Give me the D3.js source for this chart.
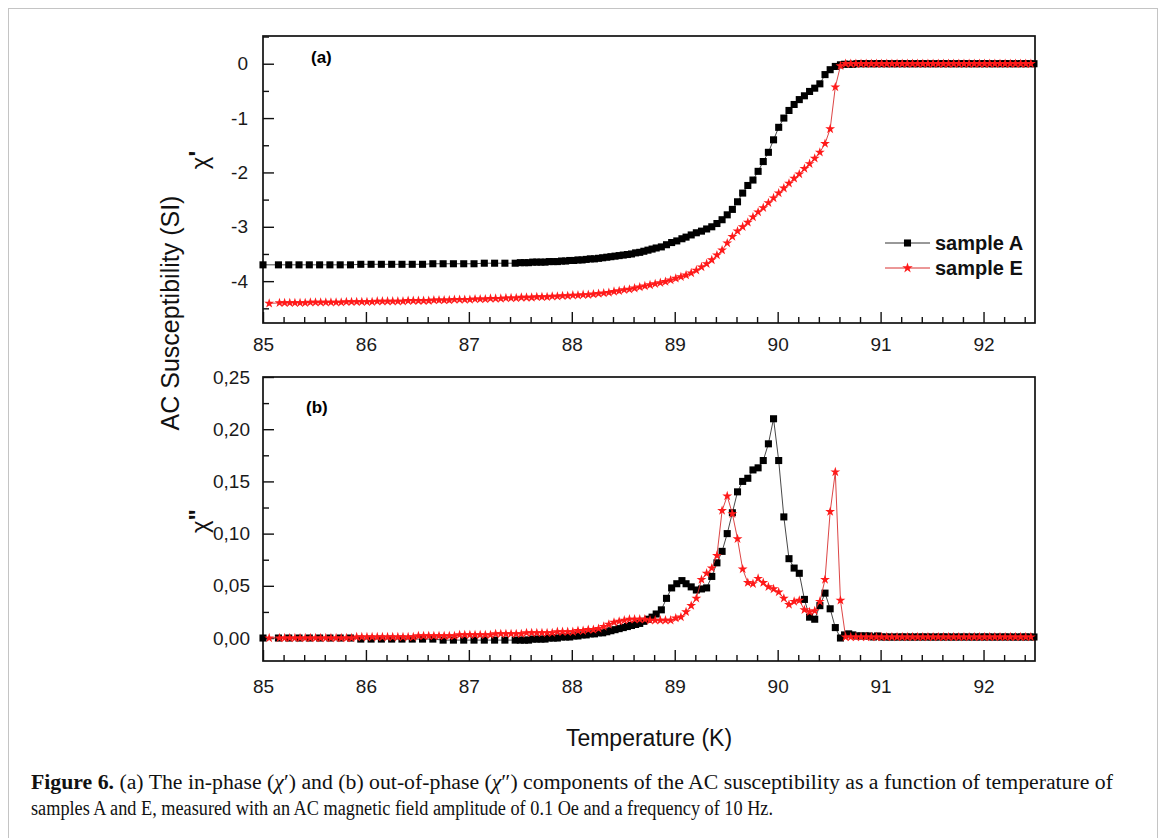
<!DOCTYPE html>
<html>
<head>
<meta charset="utf-8">
<script src="https://cdn.jsdelivr.net/npm/d3@7"></script>
<style>
  body { margin: 0; background: #fff; }
  text { font-family: "Liberation Sans", Arial, sans-serif; }
</style>
</head>
<body>
<div id="okvir"></div>
<script>
// ---- data ----
const seriesNames = ["sample A", "sample E"];
const xTicks = [85, 86, 87, 88, 89, 90, 91, 92];
const topTicks = [0, -1, -2, -3, -4];
const topMinor = [0.5, -0.5, -1.5, -2.5, -3.5, -4.5];
const botTicks = [0, 0.05, 0.10, 0.15, 0.20, 0.25];
const botMinor = [0.025, 0.075, 0.125, 0.175, 0.225];

// sample A: temperature (K), chi' and chi''
const tempA = [85.00,
  85.15,85.25,85.35,85.45,85.55,85.65,85.75,85.85,85.95,86.05,86.15,86.25,86.35,86.45,86.55,86.65,86.75,86.85,86.95,87.05,87.15,87.25,87.35,87.45,
  87.50,87.54,87.58,87.62,87.66,87.70,87.74,87.78,87.82,87.86,87.90,87.94,87.98,88.02,88.06,88.10,88.14,88.18,88.22,88.26,88.30,88.34,88.38,88.42,88.46,88.50,88.54,88.58,88.62,88.66,88.70,88.74,88.78,88.82,
  88.87,88.92,88.97,89.02,89.07,89.11,89.16,89.21,89.26,89.31,89.36,89.41,89.46,89.51,89.56,89.61,89.66,89.71,89.76,89.81,89.86,89.91,89.96,90.01,90.06,90.11,90.16,90.21,90.26,90.31,90.36,90.41,90.46,90.51,90.56,90.61,
  90.65,90.69,90.73,90.77,90.81,90.85,90.89,90.93,90.97,91.01,91.05,91.09,91.13,91.17,91.21,91.25,91.29,91.33,91.37,91.41,91.45,91.49,91.53,91.57,91.61,91.65,91.69,91.73,91.77,91.81,91.85,91.89,91.93,91.97,92.01,92.05,92.09,92.13,92.17,92.21,92.25,92.29,92.33,92.37,92.41,92.45,92.49];
const chi1A = [-3.70,
  -3.70,-3.70,-3.70,-3.70,-3.70,-3.70,-3.70,-3.70,-3.69,-3.69,-3.69,-3.69,-3.69,-3.69,-3.69,-3.68,-3.68,-3.68,-3.68,-3.68,-3.67,-3.67,-3.67,-3.67,
  -3.66,-3.66,-3.66,-3.65,-3.65,-3.65,-3.65,-3.64,-3.64,-3.64,-3.63,-3.63,-3.62,-3.62,-3.61,-3.61,-3.60,-3.59,-3.59,-3.58,-3.57,-3.56,-3.55,-3.54,-3.53,-3.52,-3.51,-3.50,-3.48,-3.47,-3.45,-3.43,-3.41,-3.39,
  -3.37,-3.33,-3.29,-3.26,-3.22,-3.19,-3.15,-3.11,-3.08,-3.04,-3.00,-2.94,-2.87,-2.78,-2.68,-2.54,-2.38,-2.24,-2.14,-1.98,-1.80,-1.63,-1.40,-1.17,-1.00,-0.86,-0.75,-0.66,-0.59,-0.51,-0.45,-0.37,-0.20,-0.11,-0.05,-0.02,
  -0.01,-0.01,-0.01,0.00,0.00,0.00,0.00,0.00,0.00,0.00,0.00,0.00,0.00,0.00,0.00,0.00,0.00,0.00,0.00,0.00,0.00,0.00,0.00,0.00,0.00,0.00,0.00,0.00,0.00,0.00,0.00,0.00,0.00,0.00,0.00,0.00,0.00,0.00,0.00,0.00,0.00,0.00,0.00,0.00,0.00,0.00,0.00];
const chi2A = [0.000,
  0.000,0.000,0.000,0.000,0.000,0.000,0.000,0.000,-0.001,-0.001,-0.001,-0.001,-0.001,-0.001,-0.001,-0.001,-0.002,-0.002,-0.002,-0.002,-0.002,-0.002,-0.002,-0.002,
  -0.002,-0.002,-0.002,-0.001,-0.001,-0.001,-0.001,0.000,0.000,0.000,0.001,0.001,0.001,0.002,0.002,0.003,0.003,0.004,0.004,0.005,0.005,0.006,0.007,0.008,0.009,0.010,0.011,0.012,0.013,0.014,0.016,0.018,0.020,0.023,
  0.027,0.038,0.048,0.052,0.055,0.052,0.049,0.046,0.047,0.048,0.059,0.072,0.083,0.100,0.120,0.140,0.150,0.153,0.161,0.163,0.170,0.186,0.210,0.170,0.116,0.076,0.067,0.062,0.037,0.020,0.018,0.031,0.043,0.028,0.010,0.000,
  0.003,0.004,0.003,0.002,0.002,0.002,0.002,0.001,0.002,0.001,0.001,0.001,0.001,0.001,0.001,0.001,0.001,0.001,0.001,0.001,0.001,0.001,0.001,0.001,0.001,0.001,0.001,0.001,0.001,0.001,0.001,0.001,0.001,0.001,0.001,0.001,0.001,0.001,0.001,0.001,0.001,0.001,0.001,0.001,0.001,0.001,0.001];

// sample E: temperature (K), chi' and chi''
const tempE = [85.06,
  85.16,85.21,85.26,85.31,85.36,85.41,85.46,85.51,85.56,85.61,
  85.66,85.71,85.76,85.81,85.86,85.91,85.96,86.01,86.06,86.11,
  86.16,86.21,86.26,86.31,86.36,86.41,86.46,86.51,86.56,86.61,
  86.66,86.71,86.76,86.81,86.86,86.91,86.96,87.01,87.06,87.11,
  87.16,87.21,87.26,87.31,87.36,87.41,87.46,87.51,87.56,87.61,
  87.66,87.71,87.76,87.81,87.86,87.91,87.96,88.01,88.06,88.11,
  88.16,88.21,88.26,88.31,88.36,88.41,88.46,88.51,88.56,88.61,
  88.66,88.71,88.76,88.81,88.86,88.91,88.96,89.01,89.06,89.11,
  89.16,89.21,89.26,89.31,89.36,89.41,89.46,89.51,89.56,89.61,
  89.66,89.71,89.76,89.81,89.86,89.91,89.96,90.01,90.06,90.11,
  90.16,90.21,90.26,90.31,90.36,90.41,90.46,90.51,90.56,90.61,
  90.66,90.71,90.76,90.81,90.86,90.91,90.96,91.01,91.06,91.11,
  91.16,91.21,91.26,91.31,91.36,91.41,91.46,91.51,91.56,91.61,
  91.66,91.71,91.76,91.81,91.86,91.91,91.96,92.01,92.06,92.11,
  92.16,92.21,92.26,92.31,92.36,92.41,92.46];
const chi1E = [-4.41,
  -4.40,-4.40,-4.40,-4.40,-4.40,-4.40,-4.39,-4.39,-4.39,-4.39,
  -4.39,-4.39,-4.39,-4.38,-4.38,-4.38,-4.38,-4.38,-4.38,-4.37,
  -4.37,-4.37,-4.37,-4.37,-4.37,-4.36,-4.36,-4.36,-4.36,-4.36,
  -4.35,-4.35,-4.35,-4.35,-4.34,-4.34,-4.34,-4.34,-4.33,-4.33,
  -4.33,-4.32,-4.32,-4.32,-4.31,-4.31,-4.31,-4.30,-4.30,-4.30,
  -4.29,-4.29,-4.29,-4.28,-4.28,-4.27,-4.27,-4.26,-4.26,-4.25,
  -4.25,-4.24,-4.23,-4.22,-4.21,-4.19,-4.18,-4.16,-4.15,-4.13,
  -4.11,-4.09,-4.07,-4.05,-4.03,-4.01,-3.98,-3.95,-3.92,-3.89,
  -3.85,-3.80,-3.74,-3.68,-3.61,-3.52,-3.43,-3.30,-3.18,-3.08,
  -3.00,-2.92,-2.82,-2.73,-2.65,-2.56,-2.47,-2.38,-2.29,-2.20,
  -2.11,-2.03,-1.93,-1.84,-1.74,-1.63,-1.47,-1.20,-0.43,-0.04,
  0.00,0.00,0.00,0.00,0.00,0.00,0.00,0.00,0.00,0.00,
  0.00,0.00,0.00,0.00,0.00,0.00,0.00,0.00,0.00,0.00,
  0.00,0.00,0.00,0.00,0.00,0.00,0.00,0.00,0.00,0.00,
  0.00,0.00,0.00,0.00,0.00,0.00,0.00];
const chi2E = [0.000,
  0.000,0.000,0.000,0.000,0.000,0.000,0.000,0.000,0.000,0.000,
  0.000,0.000,0.000,0.000,0.000,0.001,0.001,0.001,0.001,0.001,
  0.001,0.001,0.001,0.001,0.001,0.001,0.001,0.002,0.002,0.002,
  0.002,0.002,0.002,0.002,0.002,0.003,0.003,0.003,0.003,0.003,
  0.003,0.003,0.004,0.004,0.004,0.004,0.004,0.004,0.005,0.005,
  0.005,0.005,0.005,0.005,0.006,0.006,0.006,0.006,0.007,0.007,
  0.008,0.008,0.009,0.011,0.013,0.015,0.016,0.017,0.018,0.018,
  0.018,0.018,0.017,0.017,0.017,0.017,0.017,0.019,0.020,0.025,
  0.031,0.038,0.056,0.062,0.067,0.079,0.122,0.136,0.119,0.095,
  0.066,0.053,0.052,0.057,0.053,0.049,0.047,0.044,0.038,0.032,
  0.035,0.036,0.027,0.025,0.026,0.035,0.056,0.121,0.159,0.036,
  0.001,0.001,0.001,0.001,0.001,0.001,0.001,0.001,0.001,0.001,
  0.001,0.001,0.001,0.001,0.001,0.001,0.001,0.001,0.001,0.001,
  0.001,0.001,0.001,0.001,0.001,0.001,0.001,0.001,0.001,0.001,
  0.001,0.001,0.001,0.001,0.001,0.001,0.001];

// ---- drawing ----
const svg = d3.select("#okvir").append("svg")
  .attr("width", 1166)
  .attr("height", 838);

svg.append("rect")
  .attr("x", 8.5).attr("y", 8.5)
  .attr("width", 1149).attr("height", 850)
  .attr("fill", "none").attr("stroke", "#c4c4c4").attr("stroke-width", 1);

const x = d3.scaleLinear().domain([85, 92.5]).range([263, 1035]);
const yTop = d3.scaleLinear().domain([-4.77, 0.51]).range([323, 36]);
const yBot = d3.scaleLinear().domain([-0.022, 0.25]).range([661, 377]);

const xMinor = d3.range(85.2, 92.5, 0.2).filter(v => Math.abs(v - Math.round(v)) > 0.01);
const loc = d3.formatLocale({ decimal: ",", thousands: ".", grouping: [3], currency: ["", ""], minus: "-" });

const ptsA = tempA.map((t, i) => ({ t, v1: chi1A[i], v2: chi2A[i] }));
const ptsE = tempE.map((t, i) => ({ t, v1: chi1E[i], v2: chi2E[i] }));

function styleAxis(sel) {
  sel.select(".domain").remove();
  sel.selectAll(".tick line").attr("stroke", "#111").attr("stroke-width", 1.4);
  sel.selectAll(".tick text")
    .attr("fill", "#1a1a1a")
    .style("font-size", "19px")
    .style("font-family", "'Liberation Sans', Arial, sans-serif");
}

function panel(y, yMajor, yMinorVals, yFmt, xPad, yPad) {
  const g = svg.append("g");
  const [b, t] = y.range();
  const [l, r] = x.range();

  g.append("g").attr("transform", `translate(0,${b})`)
    .call(d3.axisBottom(x).tickValues(xMinor).tickSize(-6).tickSizeOuter(0).tickFormat(""))
    .call(styleAxis);
  g.append("g").attr("transform", `translate(0,${b})`)
    .call(d3.axisBottom(x).tickValues(xTicks).tickSize(-11).tickSizeOuter(0).tickPadding(xPad).tickFormat(d3.format("d")))
    .call(styleAxis);
  g.append("g").attr("transform", `translate(${l},0)`)
    .call(d3.axisLeft(y).tickValues(yMinorVals).tickSize(-6).tickSizeOuter(0).tickFormat(""))
    .call(styleAxis);
  g.append("g").attr("transform", `translate(${l},0)`)
    .call(d3.axisLeft(y).tickValues(yMajor).tickSize(-11).tickSizeOuter(0).tickPadding(yPad).tickFormat(yFmt))
    .call(styleAxis);

  g.append("rect")
    .attr("x", l).attr("y", t)
    .attr("width", r - l).attr("height", b - t)
    .attr("fill", "none").attr("stroke", "#111").attr("stroke-width", 1.7);
  return g;
}

function series(g, y, pts, key, fill, lineColor, symbol, size) {
  g.append("path")
    .datum(pts)
    .attr("d", d3.line().x(d => x(d.t)).y(d => y(d[key])))
    .attr("fill", "none")
    .attr("stroke", lineColor)
    .attr("stroke-width", 0.9);
  g.append("g").selectAll("path")
    .data(pts)
    .join("path")
      .attr("transform", d => `translate(${x(d.t)},${y(d[key])})`)
      .attr("d", d3.symbol(symbol, size)())
      .attr("fill", fill);
}

const colA = "#000", lineA = "#333";
const colE = "#ff1a1a", lineE = "#d83030";

// (a) in-phase
const gTop = panel(yTop, topTicks, topMinor, loc.format("d"), 15, 15);
series(gTop, yTop, ptsA, "v1", colA, lineA, d3.symbolSquare, 50);
series(gTop, yTop, ptsE, "v1", colE, lineE, d3.symbolStar, 30);

// (b) out-of-phase
const gBot = panel(yBot, botTicks, botMinor, loc.format(".2f"), 19, 13);
series(gBot, yBot, ptsA, "v2", colA, lineA, d3.symbolSquare, 50);
series(gBot, yBot, ptsE, "v2", colE, lineE, d3.symbolStar, 30);

// panel letters
svg.append("text").attr("x", 311).attr("y", 63).text("(a)")
  .style("font-size", "17px").style("font-weight", "bold");
svg.append("text").attr("x", 306).attr("y", 413).text("(b)")
  .style("font-size", "17px").style("font-weight", "bold");

// legend
const legend = svg.append("g");
[[colA, lineA, d3.symbolSquare, 50], [colE, lineE, d3.symbolStar, 34]].forEach((s, i) => {
  const yy = 243 + i * 25;
  legend.append("line").attr("x1", 885).attr("x2", 930).attr("y1", yy).attr("y2", yy)
    .attr("stroke", s[1]).attr("stroke-width", 1);
  legend.append("path").attr("transform", `translate(907.5,${yy})`)
    .attr("d", d3.symbol(s[2], s[3])()).attr("fill", s[0]);
  legend.append("text").attr("x", 935).attr("y", yy).attr("dy", "0.36em")
    .text(seriesNames[i])
    .style("font-size", "20px").style("font-weight", "bold").attr("fill", "#111");
});

// axis titles
svg.append("text")
  .attr("transform", "translate(179,313) rotate(-90)")
  .attr("text-anchor", "middle")
  .style("font-size", "25px").attr("fill", "#111")
  .text("AC Susceptibility (SI)");

const chi1 = svg.append("text")
  .attr("transform", "translate(208,160) rotate(-90)")
  .attr("text-anchor", "middle")
  .style("font-size", "24px").attr("fill", "#111");
chi1.append("tspan").text("χ");
chi1.append("tspan").style("font-weight", "bold").attr("dy", "-0.1em").text("'");

const chi2 = svg.append("text")
  .attr("transform", "translate(208,521) rotate(-90)")
  .attr("text-anchor", "middle")
  .style("font-size", "24px").attr("fill", "#111");
chi2.append("tspan").text("χ");
chi2.append("tspan").style("font-weight", "bold").attr("dy", "-0.1em").text("\"");

svg.append("text")
  .attr("x", 649).attr("y", 746)
  .attr("text-anchor", "middle")
  .style("font-size", "23px").attr("fill", "#111")
  .text("Temperature (K)");

// caption
const capFont = "'Liberation Serif', 'Times New Roman', serif";
const cap1 = svg.append("text")
  .attr("x", 31).attr("y", 789)
  .attr("textLength", 1082).attr("lengthAdjust", "spacingAndGlyphs")
  .style("font-family", capFont).style("font-size", "20px").attr("fill", "#111");
cap1.append("tspan").style("font-weight", "bold").text("Figure 6.");
cap1.append("tspan").text(" (a) The in-phase (");
cap1.append("tspan").style("font-style", "italic").text("χ");
cap1.append("tspan").text("′) and (b) out-of-phase (");
cap1.append("tspan").style("font-style", "italic").text("χ");
cap1.append("tspan").text("″) components of the AC susceptibility as a function of temperature of");

svg.append("text")
  .attr("x", 31).attr("y", 815)
  .attr("textLength", 742).attr("lengthAdjust", "spacingAndGlyphs")
  .style("font-family", capFont).style("font-size", "20px").attr("fill", "#111")
  .text("samples A and E, measured with an AC magnetic field amplitude of 0.1 Oe and a frequency of 10 Hz.");
</script>
</body>
</html>
